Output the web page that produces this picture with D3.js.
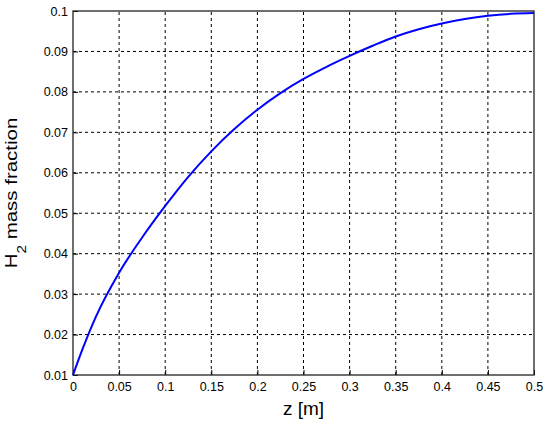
<!DOCTYPE html>
<html>
<head>
<meta charset="utf-8">
<script src="https://cdn.jsdelivr.net/npm/d3@7"></script>
<style>
  body { margin: 0; background: #fff; }
  svg { display: block; }
  text { font-family: "Liberation Sans", Arial, sans-serif; }
</style>
</head>
<body>
<svg id="chart" width="550" height="425"></svg>
<script>
const zValues = [0, 0.01, 0.025, 0.05, 0.075, 0.1, 0.125, 0.15, 0.175, 0.2, 0.225, 0.25, 0.275, 0.3, 0.325, 0.35, 0.375, 0.4, 0.425, 0.45, 0.475, 0.5];
const h2Values = [0.0100, 0.0162, 0.0245, 0.0353, 0.0440, 0.0518, 0.0590, 0.0653, 0.0708, 0.0756, 0.0797, 0.0832, 0.0862, 0.0889, 0.0914, 0.0937, 0.0955, 0.0969, 0.0980, 0.0988, 0.0993, 0.0995];
const xTicks = [0, 0.05, 0.1, 0.15, 0.2, 0.25, 0.3, 0.35, 0.4, 0.45, 0.5];
const yTicks = [0.01, 0.02, 0.03, 0.04, 0.05, 0.06, 0.07, 0.08, 0.09, 0.1];
const xLabel = "z [m]";

const margin = {left: 73, top: 11, right: 16, bottom: 50};
const W = 550, H = 425;
const svg = d3.select("#chart");
const x = d3.scaleLinear().domain([0, 0.5]).range([margin.left, W - margin.right]);
const y = d3.scaleLinear().domain([0.01, 0.1]).range([H - margin.bottom, margin.top]);

// grid
const grid = svg.append("g");
grid.selectAll("line.vx").data(xTicks.slice(1, -1)).enter().append("line")
  .attr("x1", d => x(d)).attr("x2", d => x(d))
  .attr("y1", y(0.01)).attr("y2", y(0.1))
  .attr("stroke", "#000").attr("stroke-width", 1).attr("stroke-dasharray", "3,3");
grid.selectAll("line.hy").data(yTicks.slice(1, -1)).enter().append("line")
  .attr("y1", d => y(d)).attr("y2", d => y(d))
  .attr("x1", x(0)).attr("x2", x(0.5))
  .attr("stroke", "#000").attr("stroke-width", 1).attr("stroke-dasharray", "3,3");

// axes
const fmt = d => String(+d.toFixed(3));
const xAxis = d3.axisBottom(x).tickValues(xTicks).tickFormat(fmt).tickSizeInner(-5).tickSizeOuter(0).tickPadding(7);
const yAxis = d3.axisLeft(y).tickValues(yTicks).tickFormat(fmt).tickSizeInner(-5).tickSizeOuter(0).tickPadding(5);
const gx = svg.append("g").attr("transform", `translate(0,${y(0.01)})`).call(xAxis);
const gy = svg.append("g").attr("transform", `translate(${x(0)},0)`).call(yAxis);
[gx, gy].forEach(g => {
  g.select(".domain").remove();
  g.selectAll(".tick line").attr("stroke", "#000");
  g.selectAll(".tick text").attr("font-size", 12.5).attr("fill", "#000")
    .attr("font-family", "'Liberation Sans', Arial, sans-serif");
});

// frame
svg.append("rect")
  .attr("x", x(0)).attr("y", y(0.1))
  .attr("width", x(0.5) - x(0)).attr("height", y(0.01) - y(0.1))
  .attr("fill", "none").attr("stroke", "#222").attr("stroke-width", 1.3);

// line
const line = d3.line().x((d, i) => x(zValues[i])).y(d => y(d)).curve(d3.curveMonotoneX);
svg.append("path").datum(h2Values)
  .attr("d", line).attr("fill", "none").attr("stroke", "#0000ff").attr("stroke-width", 2);

// labels
svg.append("text")
  .attr("x", (x(0) + x(0.5)) / 2).attr("y", 415)
  .attr("text-anchor", "middle").attr("font-size", 19).attr("fill", "#000")
  .text(xLabel);

const yl = svg.append("text")
  .attr("transform", `translate(17,${(y(0.01) + y(0.1)) / 2}) rotate(-90) scale(1.28,1)`)
  .attr("text-anchor", "middle").attr("font-size", 16).attr("fill", "#000");
yl.append("tspan").text("H");
yl.append("tspan").attr("font-size", 12).attr("dy", 9).text("2");
yl.append("tspan").attr("dy", -9).text(" mass fraction");
</script>
</body>
</html>
